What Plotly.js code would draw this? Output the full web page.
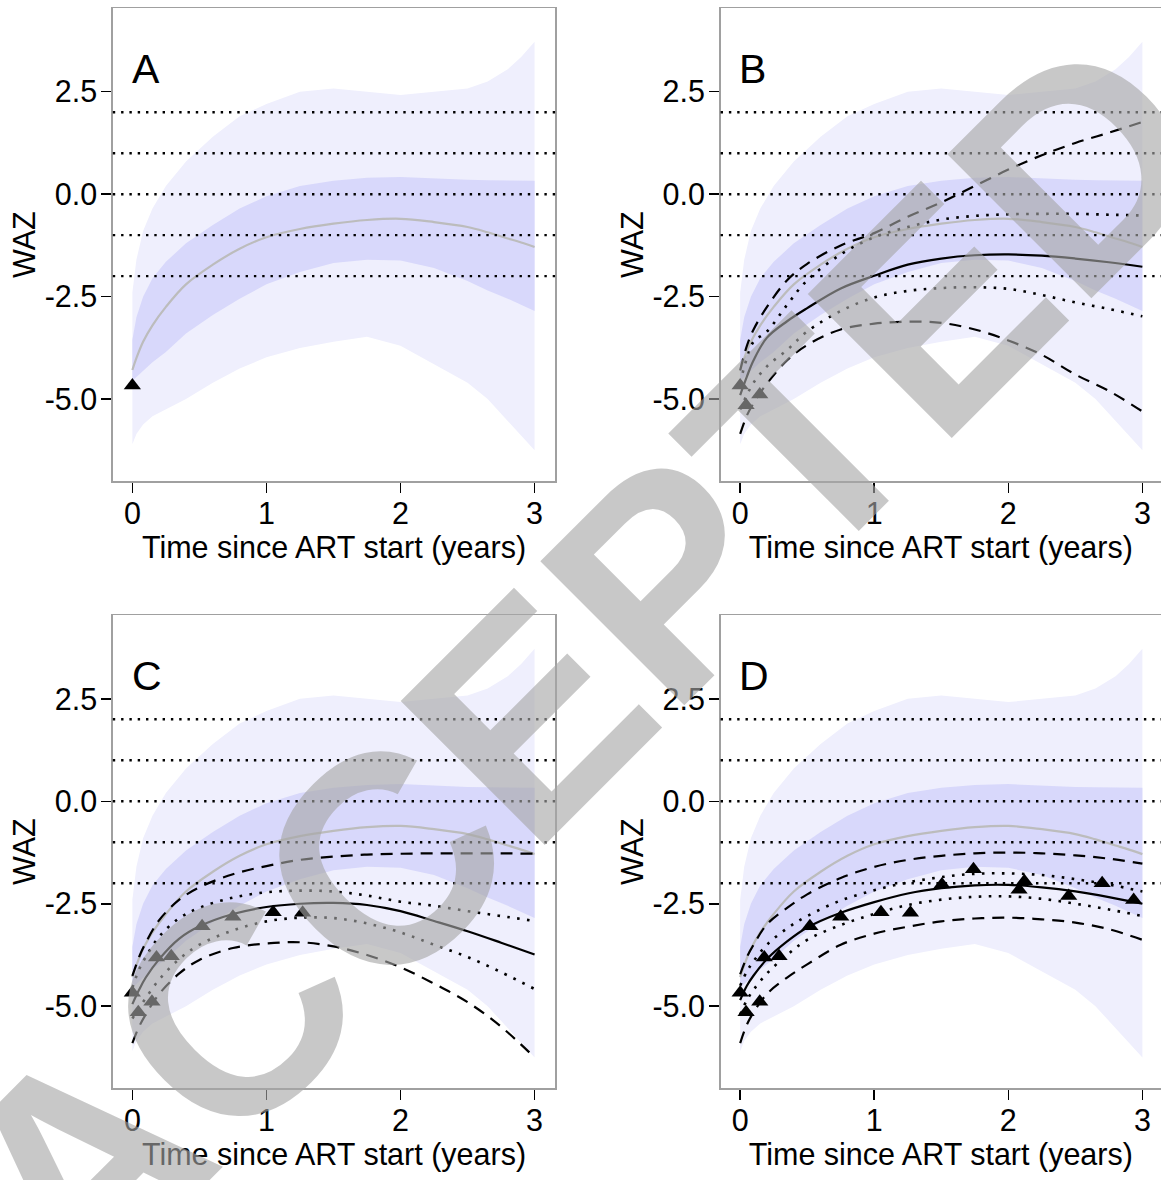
<!DOCTYPE html>
<html>
<head>
<meta charset="utf-8">
<script src="https://cdn.plot.ly/plotly-3.0.1.min.js"></script>
<style>html,body{margin:0;padding:0;background:#fff;}#chart{width:1161px;height:1180px;}</style>
</head>
<body>
<div id="chart"></div>
<script>
// ---------------- DATA ----------------
const panelLetters = ['A', 'B', 'C', 'D'];
const xTickVals = [0, 1, 2, 3];
const xTickText = ['0', '1', '2', '3'];
const yTickVals = [-5, -2.5, 0, 2.5];
const yTickText = ['-5.0', '-2.5', '0.0', '2.5'];
const refLevels = [2, 1, 0, -1, -2];

// population reference (same in all panels)
const popX        = [0, 0.03, 0.08, 0.15, 0.25, 0.4, 0.6, 0.8, 1.0, 1.25, 1.5, 1.75, 2.0, 2.25, 2.5, 2.65, 2.8, 2.9, 3.0];
const outerUpper  = [-2.4, -1.6, -0.9, -0.35, 0.2, 0.8, 1.4, 1.9, 2.2, 2.5, 2.58, 2.5, 2.42, 2.5, 2.58, 2.75, 3.05, 3.35, 3.72];
const outerLower  = [-6.1, -5.85, -5.62, -5.42, -5.25, -5.0, -4.6, -4.25, -3.98, -3.75, -3.6, -3.48, -3.7, -4.15, -4.6, -5.0, -5.55, -5.9, -6.25];
const innerUpper  = [-3.55, -3.0, -2.5, -2.05, -1.65, -1.2, -0.75, -0.35, -0.05, 0.2, 0.33, 0.4, 0.42, 0.38, 0.35, 0.34, 0.34, 0.33, 0.33];
const innerLower  = [-4.55, -4.45, -4.3, -4.1, -3.85, -3.4, -2.95, -2.55, -2.2, -1.9, -1.68, -1.6, -1.62, -1.8, -2.12, -2.35, -2.55, -2.7, -2.85];
const popMedian   = [-4.29, -4.0, -3.6, -3.2, -2.75, -2.2, -1.72, -1.33, -1.05, -0.85, -0.72, -0.63, -0.6, -0.68, -0.8, -0.93, -1.08, -1.18, -1.29];

// observed WAZ of the child
const obsX = [0, 0.044, 0.146, 0.18, 0.29, 0.52, 0.75, 1.05, 1.27, 1.505, 1.74, 2.08, 2.12, 2.45, 2.70, 2.935];
const obsY = [-4.67, -5.15, -4.89, -3.81, -3.78, -3.05, -2.82, -2.71, -2.72, -2.03, -1.66, -2.16, -1.95, -2.31, -2.00, -2.41];
const obsCount = [1, 3, 9, 16];

// individual predictions
const predX = [0, 0.05, 0.1, 0.2, 0.35, 0.5, 0.75, 1.0, 1.25, 1.5, 1.75, 2.0, 2.25, 2.5, 2.75, 3.0];
const bMedian    = [-4.9, -4.45, -4.05, -3.5, -3.1, -2.78, -2.3, -1.99, -1.72, -1.57, -1.49, -1.47, -1.5, -1.57, -1.66, -1.77];
const bUpperDot  = [-4.6, -4.0, -3.6, -3.35, -2.7, -2.1, -1.47, -1.05, -0.8, -0.62, -0.53, -0.49, -0.48, -0.48, -0.5, -0.52];
const bLowerDot  = [-5.25, -4.9, -4.6, -4.2, -3.8, -3.35, -2.85, -2.52, -2.36, -2.29, -2.27, -2.31, -2.46, -2.64, -2.8, -2.98];
const bUpperDash = [-4.3, -3.7, -3.3, -2.75, -2.1, -1.7, -1.25, -0.95, -0.55, -0.2, 0.2, 0.6, 0.95, 1.25, 1.5, 1.76];
const bLowerDash = [-5.85, -5.4, -5.1, -4.62, -4.05, -3.68, -3.3, -3.16, -3.11, -3.14, -3.3, -3.57, -3.92, -4.4, -4.8, -5.3];

const cMedian    = [-4.95, -4.6, -4.3, -3.85, -3.35, -3.05, -2.75, -2.58, -2.5, -2.48, -2.53, -2.68, -2.92, -3.17, -3.45, -3.74];
const cUpperDot  = [-4.55, -4.1, -3.8, -3.3, -2.85, -2.6, -2.35, -2.22, -2.18, -2.2, -2.3, -2.45, -2.55, -2.68, -2.8, -2.92];
const cLowerDot  = [-5.3, -5.05, -4.8, -4.35, -3.85, -3.5, -3.15, -2.93, -2.84, -2.85, -2.98, -3.2, -3.5, -3.8, -4.17, -4.58];
const cUpperDash = [-4.26, -3.8, -3.45, -2.9, -2.4, -2.1, -1.78, -1.58, -1.43, -1.35, -1.3, -1.28, -1.27, -1.27, -1.27, -1.28];
const cLowerDash = [-5.9, -5.5, -5.2, -4.7, -4.2, -3.87, -3.58, -3.47, -3.44, -3.54, -3.75, -4.05, -4.45, -4.9, -5.5, -6.25];

const dMedian    = [-4.85, -4.5, -4.25, -3.85, -3.42, -3.08, -2.72, -2.46, -2.25, -2.12, -2.05, -2.04, -2.1, -2.2, -2.34, -2.5];
const dUpperDot  = [-4.5, -4.15, -3.9, -3.5, -3.1, -2.8, -2.42, -2.17, -1.98, -1.85, -1.77, -1.76, -1.8, -1.9, -2.03, -2.2];
const dLowerDot  = [-5.2, -4.85, -4.6, -4.2, -3.75, -3.38, -3.02, -2.75, -2.53, -2.4, -2.33, -2.32, -2.38, -2.5, -2.64, -2.8];
const dUpperDash = [-4.22, -3.8, -3.5, -3.0, -2.6, -2.27, -1.87, -1.6, -1.43, -1.33, -1.27, -1.25, -1.27, -1.32, -1.4, -1.52];
const dLowerDash = [-5.9, -5.45, -5.15, -4.7, -4.3, -3.98, -3.5, -3.23, -3.06, -2.93, -2.86, -2.84, -2.88, -2.96, -3.12, -3.38];

const panelPreds = [
  null,
  {median: bMedian, upDot: bUpperDot, loDot: bLowerDot, upDash: bUpperDash, loDash: bLowerDash},
  {median: cMedian, upDot: cUpperDot, loDot: cLowerDot, upDash: cUpperDash, loDash: cLowerDash},
  {median: dMedian, upDot: dUpperDot, loDot: dLowerDot, upDash: dUpperDash, loDash: dLowerDash}
];

// ---------------- LAYOUT / STYLE ----------------
const W = 1161, H = 1180;
const FONT = 'Liberation Sans, Arial, sans-serif';
const OUTER = '#efeffd', INNER = '#d8d8fb', POPLINE = '#bcbcbc';
const xPxPerUnit = 134.07;
const xLo = -0.146;
const yRange = [-7.0, 4.54];
// panel boxes in pixels: [left, right, top, bottom]
const boxes = [
  [112.8, 555.2, 8.1, 481.1],
  [720.6, 1161, 8.1, 481.1],
  [112.8, 555.2, 615.2, 1088.2],
  [720.6, 1161, 615.2, 1088.2]
];

const traces = [];
const layout = {
  width: W, height: H,
  margin: {l: 0, r: 0, t: 0, b: 0},
  paper_bgcolor: '#fff', plot_bgcolor: '#fff',
  showlegend: false,
  font: {family: FONT, color: '#000'},
  shapes: [], annotations: []
};

boxes.forEach((b, i) => {
  const sfx = i === 0 ? '' : String(i + 1);
  const xa = 'x' + sfx, ya = 'y' + sfx;
  const xRange = [xLo, xLo + (b[1] - b[0]) / xPxPerUnit];
  layout['xaxis' + sfx] = {
    domain: [b[0] / W, b[1] / W], range: xRange, anchor: ya,
    showline: true, mirror: true, linecolor: '#a0a0a0', linewidth: 1.5,
    ticks: 'outside', ticklen: 10, tickwidth: 1.5, tickcolor: '#000',
    tickvals: xTickVals, ticktext: xTickText, ticklabelstandoff: -5,
    tickfont: {family: FONT, size: 30.5, color: '#000'},
    showgrid: false, zeroline: false, fixedrange: true,
    title: {text: 'Time since ART start (years)', font: {family: FONT, size: 30.5, color: '#000'}, standoff: 0}
  };
  layout['yaxis' + sfx] = {
    domain: [1 - b[3] / H, 1 - b[2] / H], range: yRange, anchor: xa,
    showline: true, mirror: true, linecolor: '#a0a0a0', linewidth: 1.5,
    ticks: 'outside', ticklen: 10, tickwidth: 1.5, tickcolor: '#000',
    tickvals: yTickVals, ticktext: yTickText, ticklabelstandoff: -2,
    tickfont: {family: FONT, size: 30.5, color: '#000'},
    showgrid: false, zeroline: false, fixedrange: true,
    title: {text: 'WAZ', font: {family: FONT, size: 30.5, color: '#000'}, standoff: 0}
  };

  // population bands
  traces.push({
    type: 'scatter', mode: 'lines', xaxis: xa, yaxis: ya, hoverinfo: 'skip',
    x: popX.concat(popX.slice().reverse()),
    y: outerUpper.concat(outerLower.slice().reverse()),
    fill: 'toself', fillcolor: OUTER, line: {width: 0}
  });
  traces.push({
    type: 'scatter', mode: 'lines', xaxis: xa, yaxis: ya, hoverinfo: 'skip',
    x: popX.concat(popX.slice().reverse()),
    y: innerUpper.concat(innerLower.slice().reverse()),
    fill: 'toself', fillcolor: INNER, line: {width: 0}
  });
  traces.push({
    type: 'scatter', mode: 'lines', xaxis: xa, yaxis: ya,
    x: popX, y: popMedian, line: {color: POPLINE, width: 2.2, shape: 'spline'}
  });

  const p = panelPreds[i];
  if (p) {
    const dashStyle = {color: '#000', width: 2.2, dash: '12px,8px', shape: 'spline'};
    const dotStyle = {color: '#000', width: 2.6, dash: '2.6px,7.4px', shape: 'spline'};
    traces.push({type: 'scatter', mode: 'lines', xaxis: xa, yaxis: ya, x: predX, y: p.upDash, line: dashStyle});
    traces.push({type: 'scatter', mode: 'lines', xaxis: xa, yaxis: ya, x: predX, y: p.loDash, line: dashStyle});
    traces.push({type: 'scatter', mode: 'lines', xaxis: xa, yaxis: ya, x: predX, y: p.upDot, line: dotStyle});
    traces.push({type: 'scatter', mode: 'lines', xaxis: xa, yaxis: ya, x: predX, y: p.loDot, line: dotStyle});
    traces.push({type: 'scatter', mode: 'lines', xaxis: xa, yaxis: ya, x: predX, y: p.median, line: {color: '#000', width: 2.2, shape: 'spline'}});
  }

  traces.push({
    type: 'scatter', mode: 'markers', xaxis: xa, yaxis: ya,
    x: obsX.slice(0, obsCount[i]), y: obsY.slice(0, obsCount[i]),
    marker: {symbol: 'triangle-up', size: 15, color: '#000', line: {width: 0}}
  });

  refLevels.forEach(lv => {
    layout.shapes.push({
      type: 'line', xref: xa + ' domain', yref: ya, x0: 0, x1: 1, y0: lv, y1: lv,
      line: {color: '#000', width: 2.4, dash: '2.4px,5.9px'}, layer: 'above'
    });
  });

  layout.annotations.push({
    xref: xa, yref: ya, x: -0.02, y: 3.05, xanchor: 'left', yanchor: 'middle',
    text: panelLetters[i], showarrow: false,
    font: {family: FONT, size: 41, color: '#000'}
  });
});

// watermark
layout.annotations.push({
  xref: 'paper', yref: 'paper', x: 580 / W, y: 1 - 664 / H,
  xanchor: 'center', yanchor: 'middle', textangle: -45, showarrow: false,
  text: 'ACCEPTED',
  font: {family: 'Liberation Sans, Arial, sans-serif', size: 296, weight: 'bold', color: 'rgba(166,166,166,0.62)'}
});

Plotly.newPlot('chart', traces, layout, {staticPlot: true, displayModeBar: false});
</script>
</body>
</html>
